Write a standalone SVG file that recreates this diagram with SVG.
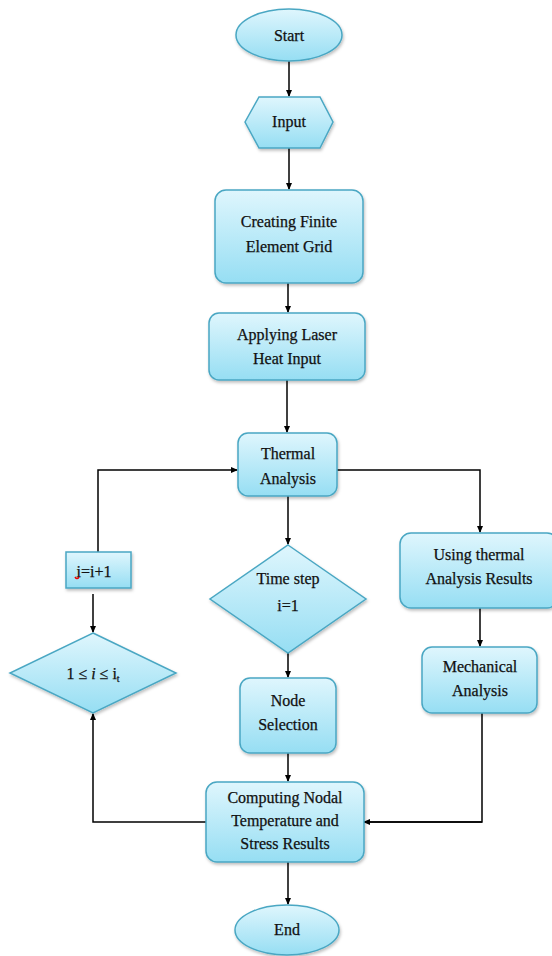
<svg xmlns="http://www.w3.org/2000/svg" width="552" height="956" viewBox="0 0 552 956">
<defs>
<linearGradient id="g" x1="0" y1="0" x2="0" y2="1">
<stop offset="0" stop-color="#dff6fd"/>
<stop offset="1" stop-color="#96def3"/>
</linearGradient>
<filter id="sh" x="-10%" y="-10%" width="120%" height="130%">
<feDropShadow dx="1" dy="2" stdDeviation="1.5" flood-color="#000" flood-opacity="0.25"/>
</filter>
<marker id="ar" markerWidth="8" markerHeight="8" refX="6" refY="4" orient="auto" markerUnits="userSpaceOnUse">
<path d="M0,1 L7,4 L0,7 Z" fill="#000"/>
</marker>
</defs>
<style>
.s{fill:url(#g);stroke:#4aa7c3;stroke-width:1.5;filter:url(#sh)}
.t{font-family:'Liberation Serif','DejaVu Serif',serif;font-size:16px;fill:#111;text-anchor:middle;stroke:#111;stroke-width:0.25}
.c{fill:none;stroke:#000;stroke-width:1.5;marker-end:url(#ar)}
.l{fill:none;stroke:#000;stroke-width:1.5}
</style>
<rect width="552" height="956" fill="#fff"/>
<g id="connectors">
<path class="c" d="M289,61 V96"/>
<path class="c" d="M289,148 V189"/>
<path class="c" d="M288,283 V312"/>
<path class="c" d="M287,380 V432"/>
<path class="c" d="M288,496 V544"/>
<path class="c" d="M337,470 H480 V532"/>
<path class="c" d="M480,608 V646"/>
<path class="l" d="M482,713 V822 H364"/>
<path class="c" d="M482,822 H364"/>
<path class="c" d="M288,653 V677"/>
<path class="c" d="M288,753 V781"/>
<path class="c" d="M288,862 V904"/>
<path class="c" d="M206,822 H93 V714"/>
<path class="c" d="M93,594 V632"/>
<path class="c" d="M98,552 V470 H237"/>
</g>
<g id="start"><ellipse class="s" cx="289" cy="35" rx="53" ry="26"/><text class="t" x="289" y="41">Start</text></g>
<g id="input"><polygon class="s" points="245,122 259,97 320,97 333,122 320,148 259,148"/><text class="t" x="289" y="127">Input</text></g>
<g id="grid"><rect class="s" x="215" y="190" width="148" height="93" rx="11"/><text class="t" x="289" y="227">Creating Finite</text><text class="t" x="289" y="252">Element Grid</text></g>
<g id="laser"><rect class="s" x="209" y="313" width="156" height="67" rx="10"/><text class="t" x="287" y="340">Applying Laser</text><text class="t" x="287" y="364">Heat Input</text></g>
<g id="thermal"><rect class="s" x="238" y="433" width="99" height="63" rx="10"/><text class="t" x="288" y="459">Thermal</text><text class="t" x="288" y="484">Analysis</text></g>
<g id="timestep"><polygon class="s" points="288,545 366,599 288,653 210,599"/><text class="t" x="288" y="584">Time step</text><text class="t" x="288" y="611">i=1</text></g>
<g id="using"><rect class="s" x="400" y="533" width="158" height="75" rx="11"/><text class="t" x="479" y="560">Using thermal</text><text class="t" x="479" y="584">Analysis Results</text></g>
<g id="mech"><rect class="s" x="422" y="647" width="115" height="66" rx="10"/><text class="t" x="480" y="672">Mechanical</text><text class="t" x="480" y="696">Analysis</text></g>
<g id="inc"><rect class="s" x="66" y="552" width="65" height="36"/><text class="t" x="94" y="577">i=i+1</text><path d="M75,577 q2,3 4,0" fill="none" stroke="#e00" stroke-width="1.5"/></g>
<g id="cond"><polygon class="s" points="93,633 176,673 93,713 10,673"/><text class="t" x="93" y="679">1 ≤ <tspan font-style="italic">i</tspan> ≤ i<tspan font-size="10" dy="3">t</tspan></text></g>
<g id="node"><rect class="s" x="240" y="678" width="96" height="75" rx="10"/><text class="t" x="288" y="706">Node</text><text class="t" x="288" y="730">Selection</text></g>
<g id="compute"><rect class="s" x="206" y="782" width="158" height="80" rx="11"/><text class="t" x="285" y="803">Computing Nodal</text><text class="t" x="285" y="826">Temperature and</text><text class="t" x="285" y="849">Stress Results</text></g>
<g id="end"><ellipse class="s" cx="287" cy="930" rx="52" ry="25"/><text class="t" x="287" y="935">End</text></g>
</svg>
